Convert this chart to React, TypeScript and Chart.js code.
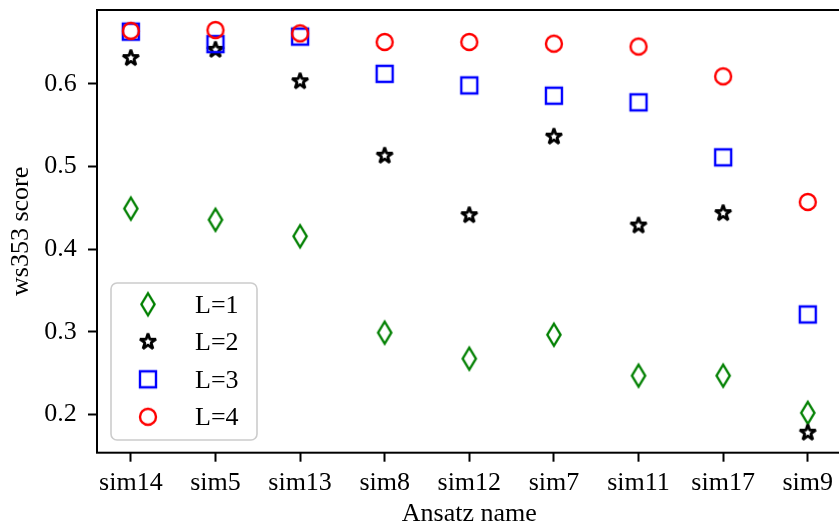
import React, { useEffect, useRef } from 'react';
import { Chart, registerables } from 'chart.js';

Chart.register(...registerables);

const categories = ['sim14', 'sim5', 'sim13', 'sim8', 'sim12', 'sim7', 'sim11', 'sim17', 'sim9'];
const seriesL1 = [0.449, 0.4355, 0.4155, 0.299, 0.2675, 0.2965, 0.247, 0.247, 0.202];
const seriesL2 = [0.631, 0.641, 0.603, 0.513, 0.441, 0.536, 0.4285, 0.4435, 0.178];
const seriesL3 = [0.663, 0.648, 0.657, 0.612, 0.598, 0.5855, 0.5775, 0.511, 0.321];
const seriesL4 = [0.664, 0.665, 0.661, 0.6505, 0.6505, 0.6485, 0.645, 0.609, 0.457];
const legendLabels = ['L=1', 'L=2', 'L=3', 'L=4'];
const yTicks = [0.2, 0.3, 0.4, 0.5, 0.6];
const yMin = 0.1538;
const yMax = 0.6892;
const xMin = -0.4;
const xMax = 8.4;

const FONT = "'Liberation Serif', 'DejaVu Serif', serif";
const CANVAS_W = 870;
const CANVAS_H = 527;
const TARGET_RIGHT = 841.6;
const TARGET_TOP = 8;
const TARGET_BOTTOM = 452.7;

type Kind = 'diamond' | 'star' | 'square' | 'circle';

function makeMarker(kind: Kind, color: string): HTMLCanvasElement {
  const s = 34;
  const c = document.createElement('canvas');
  c.width = s;
  c.height = s;
  const g = c.getContext('2d')!;
  const m = s / 2;
  g.strokeStyle = color;
  g.lineWidth = 2.4;
  g.lineJoin = 'miter';
  g.beginPath();
  if (kind === 'circle') {
    g.arc(m, m, 8, 0, Math.PI * 2);
  } else if (kind === 'square') {
    g.rect(m - 8, m - 8, 16, 16);
  } else if (kind === 'diamond') {
    g.moveTo(m, m - 11);
    g.lineTo(m + 6.6, m);
    g.lineTo(m, m + 11);
    g.lineTo(m - 6.6, m);
    g.closePath();
  } else {
    g.lineJoin = 'bevel';
    g.lineWidth = 2.8;
    const R = 8.4;
    const r = R * 0.381966;
    for (let i = 0; i < 10; i++) {
      const a = -Math.PI / 2 + (i * Math.PI) / 5;
      const rr = i % 2 === 0 ? R : r;
      const px = m + rr * Math.cos(a);
      const py = m + rr * Math.sin(a);
      if (i === 0) g.moveTo(px, py);
      else g.lineTo(px, py);
    }
    g.closePath();
  }
  g.stroke();
  return c;
}

export default function App() {
  const ref = useRef<HTMLCanvasElement | null>(null);

  useEffect(() => {
    if (!ref.current) return;
    const markers = [
      makeMarker('diamond', '#008000'),
      makeMarker('star', '#000000'),
      makeMarker('square', '#0000ff'),
      makeMarker('circle', '#ff0000'),
    ];
    const allSeries = [seriesL1, seriesL2, seriesL3, seriesL4];

    const framePlugin = {
      id: 'frame',
      afterDraw(chart: any) {
        const { ctx, chartArea } = chart;
        ctx.save();
        ctx.strokeStyle = '#000';
        ctx.lineWidth = 2;
        ctx.strokeRect(chartArea.left, chartArea.top, chartArea.right - chartArea.left, chartArea.bottom - chartArea.top);

        // legend box
        const bx = 111, by = 283, bw = 146, bh = 157, rad = 6;
        ctx.beginPath();
        ctx.moveTo(bx + rad, by);
        ctx.arcTo(bx + bw, by, bx + bw, by + bh, rad);
        ctx.arcTo(bx + bw, by + bh, bx, by + bh, rad);
        ctx.arcTo(bx, by + bh, bx, by, rad);
        ctx.arcTo(bx, by, bx + bw, by, rad);
        ctx.closePath();
        ctx.fillStyle = 'rgba(255,255,255,0.8)';
        ctx.fill();
        ctx.strokeStyle = '#cccccc';
        ctx.lineWidth = 1.6;
        ctx.stroke();

        ctx.font = `26px ${FONT}`;
        ctx.fillStyle = '#000';
        ctx.textAlign = 'left';
        ctx.textBaseline = 'alphabetic';
        chart.data.datasets.forEach((ds: any, i: number) => {
          const cy = 304.3 + i * 37.5;
          const img = ds.pointStyle as HTMLCanvasElement;
          ctx.drawImage(img, 148 - img.width / 2, cy - img.height / 2);
          ctx.fillText(legendLabels[i], 195, cy + 8.4);
        });
        ctx.restore();
      },
    };

    const chart: any = new Chart(ref.current, {
      type: 'scatter',
      data: {
        datasets: allSeries.map((vals, i) => ({
          label: legendLabels[i],
          data: vals.map((v, j) => ({ x: j, y: v })),
          pointStyle: markers[i] as any,
          pointRadius: 9,
          pointHoverRadius: 9,
          order: 4 - i,
        })),
      },
      options: {
        animation: false,
        responsive: false,
        devicePixelRatio: window.devicePixelRatio || 1,
        layout: { padding: { top: TARGET_TOP, right: CANVAS_W - TARGET_RIGHT, left: 0, bottom: 0 } },
        plugins: { legend: { display: false }, tooltip: { enabled: false } },
        events: [],
        scales: {
          x: {
            type: 'linear',
            min: xMin,
            max: xMax,
            afterBuildTicks: (scale: any) => {
              scale.ticks = categories.map((_, i) => ({ value: i }));
            },
            afterFit: (scale: any) => {
              scale.height = CANVAS_H - TARGET_BOTTOM;
              scale.paddingLeft = 0;
              scale.paddingRight = 0;
            },
            ticks: {
              callback: (v: any) => categories[Math.round(Number(v))] ?? '',
              color: '#000',
              font: { family: FONT, size: 26 },
              padding: 6,
              maxRotation: 0,
              autoSkip: false,
            },
            grid: {
              drawOnChartArea: false,
              drawTicks: true,
              tickLength: 9,
              tickWidth: 2,
              tickColor: '#000',
            },
            border: { display: false },
            title: {
              display: true,
              text: 'Ansatz name',
              color: '#000',
              font: { family: FONT, size: 26, lineHeight: 1 },
              padding: { top: 0, bottom: 0 },
            },
          },
          y: {
            type: 'linear',
            min: yMin,
            max: yMax,
            afterBuildTicks: (scale: any) => {
              scale.ticks = yTicks.map((v) => ({ value: v }));
            },
            afterFit: (scale: any) => {
              scale.width = 97;
              scale.paddingTop = 0;
              scale.paddingBottom = 0;
            },
            ticks: {
              callback: (v: any) => Number(v).toFixed(1),
              color: '#000',
              font: { family: FONT, size: 26 },
              padding: 11.3,
            },
            grid: {
              drawOnChartArea: false,
              drawTicks: true,
              tickLength: 9,
              tickWidth: 2,
              tickColor: '#000',
            },
            border: { display: false },
            title: {
              display: true,
              text: 'ws353 score',
              color: '#000',
              font: { family: FONT, size: 26, lineHeight: 1 },
              padding: { top: 8, bottom: 0 },
            },
          },
        },
      },
      plugins: [framePlugin],
    });

    // correct layout so that the plot area matches the target box exactly
    for (let k = 0; k < 3; k++) {
      const area = chart.chartArea;
      const pad = chart.options.layout.padding;
      const dr = area.right - TARGET_RIGHT;
      const dt = area.top - TARGET_TOP;
      if (Math.abs(dr) < 0.05 && Math.abs(dt) < 0.05) break;
      pad.right = pad.right + dr;
      pad.top = pad.top - dt;
      chart.update('none');
    }

    return () => chart.destroy();
  }, []);

  return (
    <div style={{ position: 'absolute', left: 0, top: 0, width: 839, height: 527, overflow: 'hidden', background: '#fff' }}>
      <canvas ref={ref} width={CANVAS_W} height={CANVAS_H} style={{ width: CANVAS_W, height: CANVAS_H, display: 'block' }} />
    </div>
  );
}
